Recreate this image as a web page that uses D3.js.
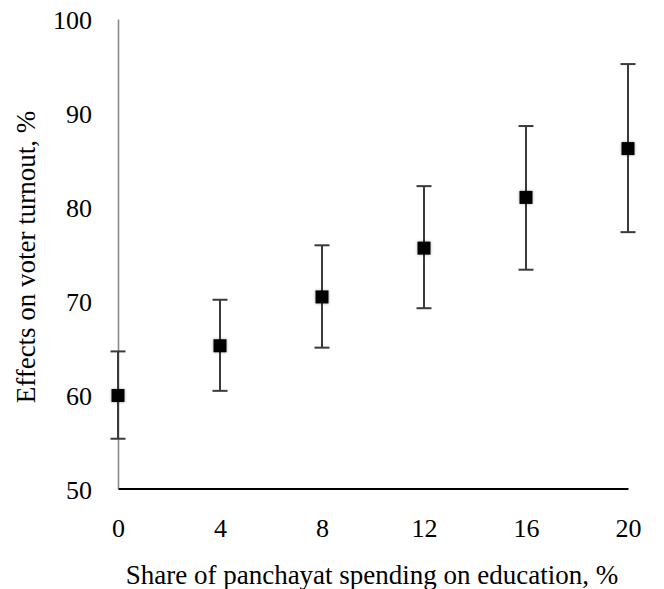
<!DOCTYPE html>
<html>
<head>
<meta charset="utf-8">
<script src="https://cdn.jsdelivr.net/npm/d3@7/dist/d3.min.js"></script>
<style>
  html, body { margin: 0; padding: 0; background: #fff; }
  svg { display: block; }
  text { font-family: "Liberation Serif", "Times New Roman", serif; fill: #000; }
</style>
</head>
<body>
<svg id="chart" width="664" height="589"></svg>
<script>
// Spending share on education (%) and estimated turnout effects with 95% bounds
const shares = [0, 4, 8, 12, 16, 20];
const effect = [59.9, 65.2, 70.4, 75.6, 81.0, 86.2];
const lower  = [55.3, 60.4, 65.0, 69.2, 73.3, 77.3];
const upper  = [64.6, 70.1, 75.9, 82.2, 88.6, 95.2];
const xTicks = [0, 4, 8, 12, 16, 20];
const yTicks = [50, 60, 70, 80, 90, 100];

const svg = d3.select("#chart");
const x = d3.scaleLinear().domain([0, 20]).range([118, 628]);
const y = d3.scaleLinear().domain([50, 100]).range([488.5, 19]);

const defs = svg.append("defs");
const f = defs.append("filter").attr("id", "soft").attr("x", "-50%").attr("y", "-50%").attr("width", "200%").attr("height", "200%");
f.append("feDropShadow").attr("dx", 0).attr("dy", 0).attr("stdDeviation", 1.6)
  .attr("flood-color", "#000").attr("flood-opacity", 0.35);

// y axis (line only, labels placed to the left)
const yAxis = d3.axisLeft(y).tickValues(yTicks).tickSize(0).tickPadding(26).tickFormat(d3.format("d"));
const gy = svg.append("g").attr("transform", `translate(${x(0)},0)`).call(yAxis);
gy.select(".domain").attr("stroke", "#8a8a8a").attr("stroke-width", 1.6);
gy.selectAll("text").attr("font-size", 26).attr("dy", "0.38em")
  .attr("font-family", "Liberation Serif");

// x axis
const xAxis = d3.axisBottom(x).tickValues(xTicks).tickSize(0).tickPadding(39).tickFormat(d3.format("d"));
const gx = svg.append("g").attr("transform", `translate(0,${y(50)})`).call(xAxis);
gx.select(".domain").attr("stroke", "#000").attr("stroke-width", 2.2);
gx.selectAll("text").attr("font-size", 26).attr("dy", "0.36em")
  .attr("font-family", "Liberation Serif");

// error bars
const data = shares.map((s, i) => ({ s, e: effect[i], lo: lower[i], hi: upper[i] }));
const bars = svg.append("g").attr("stroke", "#3a3a3a").attr("stroke-width", 2);
bars.selectAll("line.v").data(data).join("line").attr("class", "v")
  .attr("x1", d => x(d.s)).attr("x2", d => x(d.s))
  .attr("y1", d => y(d.lo)).attr("y2", d => y(d.hi));
bars.selectAll("line.top").data(data).join("line").attr("class", "top")
  .attr("x1", d => x(d.s) - 7.5).attr("x2", d => x(d.s) + 7.5)
  .attr("y1", d => y(d.hi)).attr("y2", d => y(d.hi));
bars.selectAll("line.bot").data(data).join("line").attr("class", "bot")
  .attr("x1", d => x(d.s) - 7.5).attr("x2", d => x(d.s) + 7.5)
  .attr("y1", d => y(d.lo)).attr("y2", d => y(d.lo));

// square markers
const m = 13;
svg.append("g").selectAll("rect").data(data).join("rect")
  .attr("x", d => x(d.s) - m / 2).attr("y", d => y(d.e) - m / 2)
  .attr("width", m).attr("height", m).attr("fill", "#000")
  .attr("filter", "url(#soft)");

// axis titles
svg.append("text").attr("x", 372).attr("y", 584).attr("text-anchor", "middle")
  .attr("font-size", 27).text("Share of panchayat spending on education, %");
svg.append("text").attr("transform", "translate(35,257) rotate(-90)").attr("text-anchor", "middle")
  .attr("font-size", 27).text("Effects on voter turnout, %");
</script>
</body>
</html>
